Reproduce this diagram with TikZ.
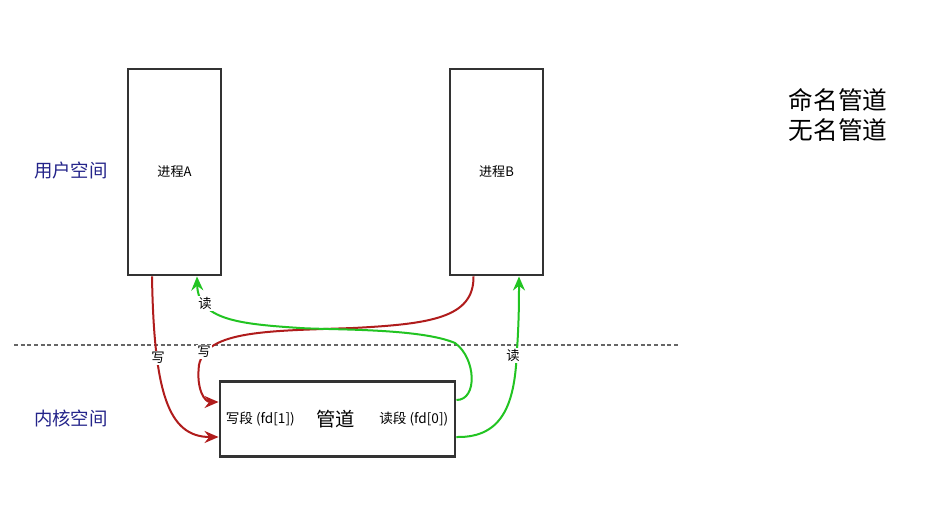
\documentclass[tikz,border=0pt]{standalone}
\usepackage{fontspec}
\setmainfont{Noto Sans CJK SC}
\usetikzlibrary{arrows.meta,calc}
\definecolor{boxline}{HTML}{333333}
\definecolor{redc}{HTML}{B01C1C}
\definecolor{greenc}{HTML}{22C422}
\definecolor{navy}{HTML}{24248A}
\tikzset{
  procbox/.style={draw=boxline, line width=2.2pt, minimum width=69.75pt, minimum height=154.5pt, inner sep=0pt, font=\fontsize{9.8}{11}\selectfont},
  pipebox/.style={draw=boxline, line width=2.2pt, minimum width=176.25pt, minimum height=56.25pt, inner sep=0pt},
  redline/.style={draw=redc, line width=1.5pt, -{Stealth[length=10.5pt,width=9pt,inset=3.5pt]}},
  greenline/.style={draw=greenc, line width=1.5pt, -{Stealth[length=10.5pt,width=9pt,inset=3.5pt]}},
  lbl/.style={fill=white, inner sep=1pt, font=\fontsize{10}{11}\selectfont},
  space/.style={text=navy, font=\fontsize{13.8}{15}\selectfont},
  side/.style={font=\fontsize{10.2}{11}\selectfont, inner sep=0pt},
}
\begin{document}
\begin{tikzpicture}[x=0.75pt,y=-0.75pt]
\useasboundingbox (0,0) rectangle (929,511);
\fill[white] (0,0) rectangle (929,511);
% separator
\draw[gray!80!black, line width=0.8pt, dash pattern=on 3pt off 2pt] (14,345) -- (680,345);
% boxes
\node[procbox] (A) at (174.5,172) {进程A};
\node[procbox] (B) at (496.5,172) {进程B};
\node[pipebox] (P) at (337.5,419) {};
\node[side, anchor=west] (w) at ($(P.west)+(7,0)$) {写段 (fd[1])};
\node[font=\fontsize{14.5}{16}\selectfont] (g) at ($(P.center)+(-2,0)$) {管道};
\node[side, anchor=east] (r) at ($(P.east)+(-8,0)$) {读段 (fd[0])};
% side labels
\node[space] (us) at (71,171) {用户空间};
\node[space] (ks) at (71,418) {内核空间};
\node[font=\fontsize{18.5}{22.5}\selectfont, align=center] (names) at (838,115) {命名管道\\无名管道};
% red: A writes
\draw[redline] ($(A.south)+(-22.5,0)$) .. controls (154,392) and (168,437) .. ($(P.west)+(0,18)$);
% red: B writes
\draw[redline] ($(B.south)+(-23,0)$) .. controls (474,318) and (430,324) .. (353,328)
  .. controls (270,331) and (206,330) .. (199,365)
  .. controls (196,390) and (205,402) .. ($(P.west)+(0,-17)$);
% green: A reads
\draw[greenline] ($(P.east)+(0,-19)$) .. controls (478,400) and (476,358) .. (455,343)
  .. controls (420,328) and (330,330) .. (300,328)
  .. controls (240,324) and (198,320) .. ($(A.south)+(22.5,0)$);
% green: B reads
\draw[greenline] ($(P.east)+(0,18)$) .. controls (505,438) and (515,400) .. (517,350)
  .. controls (519,320) and (519,300) .. ($(B.south)+(22.5,0)$);
% connector labels
\node[lbl] (l1) at (158,358) {写};
\node[lbl] (l2) at (204,352) {写};
\node[lbl] (l3) at (205,303) {读};
\node[lbl] (l4) at (513,355) {读};
\end{tikzpicture}
\end{document}
